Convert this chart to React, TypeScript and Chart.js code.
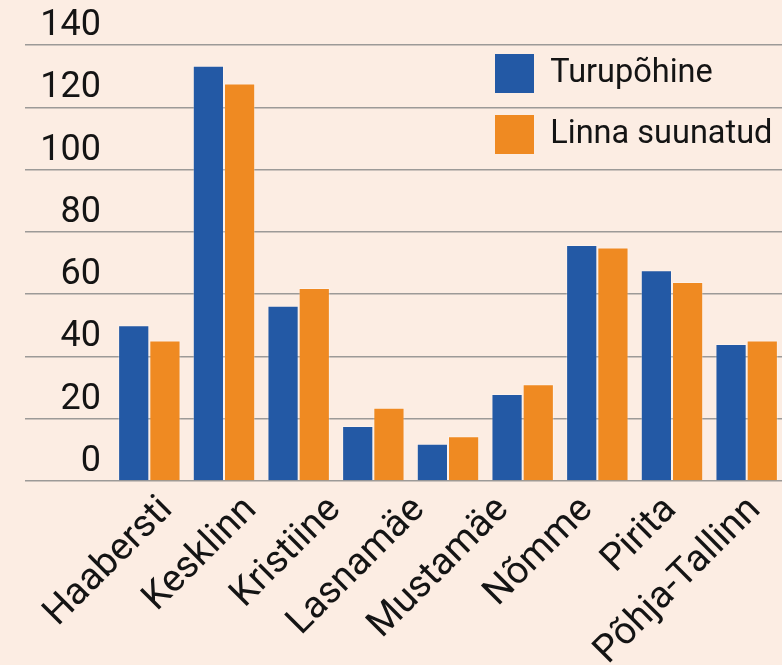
import React, { useEffect, useRef } from "react";
import { Chart, registerables } from "chart.js";

Chart.register(...registerables);

// Category labels shown under the axis (8 districts)
const districts = [
  "Haabersti",
  "Kesklinn",
  "Kristiine",
  "Lasnamäe",
  "Mustamäe",
  "Nõmme",
  "Pirita",
  "Põhja-Tallinn",
];

// Bar groups as drawn in the reference (9 groups)
const barGroups = ["1", "2", "3", "4", "5", "6", "7", "8", "9"];

const seriesNames = ["Turupõhine", "Linna suunatud"];
const turupohine = [50.0, 133.3, 56.3, 17.7, 12.0, 27.9, 75.8, 67.7, 44.0];
const linnaSuunatud = [45.1, 127.6, 62.0, 23.5, 14.4, 31.1, 75.0, 63.9, 45.1];

const yMin = 0;
const yMax = 140;
const yStep = 20;

const BG = "#fcede3";
const BLUE = "#2359a5";
const ORANGE = "#ef8a22";
const GRID = "#9c9a98";
const TEXT = "#141414";
const FONT = "Roboto, 'Liberation Sans', sans-serif";

const legendPlacer = {
  id: "legendPlacer",
  afterLayout(chart: any) {
    const lg = chart.legend;
    if (!lg) return;
    const pad = lg.options.labels.padding;
    lg.left = 495 - pad;
    lg.top = 54 - pad;
    lg.right = lg.left + lg.width;
    lg.bottom = lg.top + 400;
  },
};

export default function App() {
  const ref = useRef<HTMLCanvasElement>(null);

  useEffect(() => {
    const chart = new Chart(ref.current as HTMLCanvasElement, {
      type: "bar",
      data: {
        labels: barGroups,
        datasets: [
          {
            label: seriesNames[0],
            data: turupohine,
            backgroundColor: BLUE,
            borderColor: "rgba(255,255,255,0.3)",
            borderWidth: 1,
            categoryPercentage: 0.836,
            barPercentage: 1.0,
          },
          {
            label: seriesNames[1],
            data: linnaSuunatud,
            backgroundColor: ORANGE,
            borderColor: "rgba(255,255,255,0.3)",
            borderWidth: 1,
            categoryPercentage: 0.836,
            barPercentage: 1.0,
          },
        ],
      },
      options: {
        animation: false,
        responsive: false,
        maintainAspectRatio: false,
        layout: { padding: { top: 45, right: 6, left: 0, bottom: 0 } },
        plugins: {
          tooltip: { enabled: false },
          legend: {
            display: true,
            position: "chartArea" as any,
            align: "start",
            labels: {
              boxWidth: 39,
              boxHeight: 39,
              padding: 22,
              color: TEXT,
              font: { family: FONT, size: 32.5 },
              generateLabels: (c: any) =>
                c.data.datasets.map((ds: any, i: number) => ({
                  text: ds.label,
                  fillStyle: ds.backgroundColor,
                  strokeStyle: ds.backgroundColor,
                  lineWidth: 0,
                  hidden: false,
                  datasetIndex: i,
                  fontColor: TEXT,
                })),
            },
          },
        },
        scales: {
          x: {
            type: "category",
            display: false,
            grid: { display: false },
          },
          x2: {
            type: "category",
            position: "bottom",
            labels: districts,
            offset: true,
            grid: { display: false, drawTicks: false },
            border: { display: false },
            ticks: {
              autoSkip: false,
              minRotation: 45,
              maxRotation: 45,
              padding: 7,
              labelOffset: 13,
              color: TEXT,
              font: { family: FONT, size: 38 },
            },
            afterFit: (s: any) => {
              s.height = 184;
            },
          },
          y: {
            min: yMin,
            max: yMax,
            ticks: {
              stepSize: yStep,
              padding: -76,
              labelOffset: -19,
              color: TEXT,
              font: { family: FONT, size: 36 },
            },
            grid: {
              color: GRID,
              lineWidth: 1.5,
              drawTicks: true,
              tickLength: 87,
            },
            border: { display: false },
            afterFit: (s: any) => {
              s.width = 112;
            },
          },
        },
      },
      plugins: [legendPlacer],
    });
    return () => chart.destroy();
  }, []);

  return (
    <div
      style={{
        position: "fixed",
        left: 0,
        top: 0,
        width: 782,
        height: 665,
        overflow: "hidden",
        background: BG,
      }}
    >
      <canvas
        ref={ref}
        width={790}
        height={665}
        style={{ display: "block", width: 790, height: 665 }}
      />
    </div>
  );
}
